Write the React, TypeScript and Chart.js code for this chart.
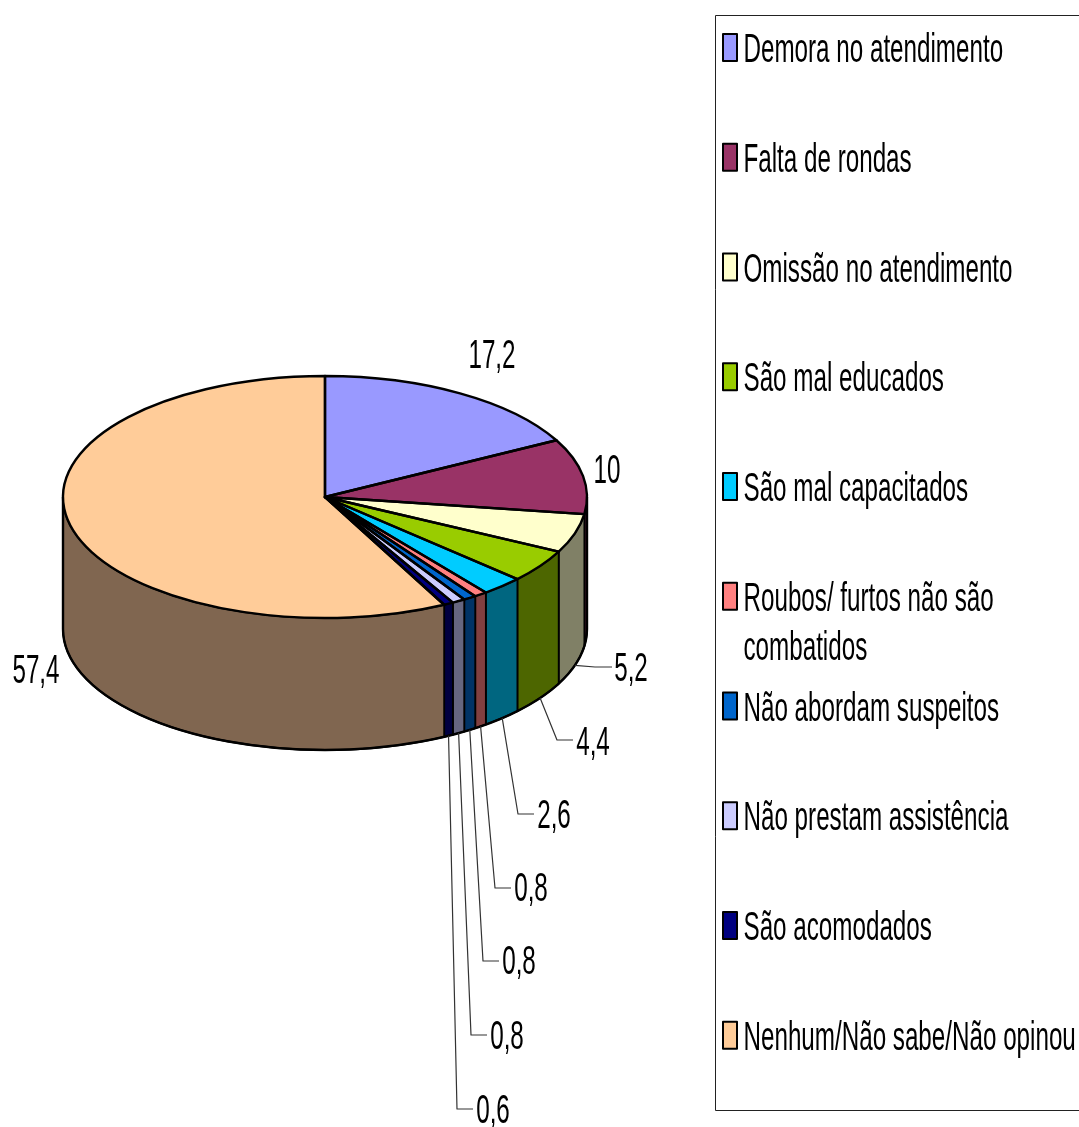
import React, { useEffect, useRef } from "react";
import { Chart, registerables } from "chart.js";

Chart.register(...registerables);

const categories: (string | string[])[] = [
  "Demora no atendimento",
  "Falta de rondas",
  "Omissão no atendimento",
  "São mal educados",
  "São mal capacitados",
  ["Roubos/ furtos não são", "combatidos"],
  "Não abordam suspeitos",
  "Não prestam assistência",
  "São acomodados",
  "Nenhum/Não sabe/Não opinou",
];
const values = [17.2, 10, 5.2, 4.4, 2.6, 0.8, 0.8, 0.8, 0.6, 57.4];
const topColors = ["#9999FF", "#993366", "#FFFFCC", "#99CC00", "#00CCFF", "#FF8080", "#0066CC", "#CCCCFF", "#000080", "#FFCC99"];
const wallColors = ["#4D4D80", "#4D1A33", "#808066", "#4D6600", "#006680", "#804040", "#003366", "#666680", "#000040", "#806650"];

// Label placement: [label centre x, label centre y, elbow x, elbow y, line end x] ; null elbow = no leader
const labelPlaces: (number | null)[][] = [
  [492, 355, null, null, null],
  [607, 470, null, null, null],
  [631, 668, 595, 667, 612],
  [593, 742, 557, 740, 573],
  [554, 815, 518, 814, 534],
  [531, 888, 495, 888, 511],
  [519, 961, 483, 961, 499],
  [507, 1036, 471, 1035, 487],
  [493, 1110, 457, 1109, 473],
  [36, 670, null, null, null],
];

const SQUASH = 121 / 262;
const DEPTH = 132;
const TEXT_X = 0.605;
const FONT = '40px "Liberation Sans", Arial, sans-serif';

function narrowText(ctx: CanvasRenderingContext2D, text: string, x: number, y: number, align: CanvasTextAlign) {
  ctx.save();
  ctx.translate(x, y + 2);
  ctx.scale(TEXT_X, 1);
  ctx.font = FONT;
  ctx.fillStyle = "#000";
  ctx.textAlign = align;
  ctx.textBaseline = "middle";
  ctx.fillText(text, 0, 0);
  ctx.restore();
}

const pie3d = {
  id: "pie3d",
  beforeDatasetsDraw(chart: any) {
    const ctx: CanvasRenderingContext2D = chart.ctx;
    const arcs = chart.getDatasetMeta(0).data;
    const cx = arcs[0].x;
    const cy = arcs[0].y;
    const rx = arcs[0].outerRadius;
    const ry = rx * SQUASH;
    arcs.forEach((arc: any, i: number) => {
      const a1 = Math.max(arc.startAngle, 0);
      const a2 = Math.min(arc.endAngle, Math.PI);
      if (a2 <= a1) return;
      ctx.beginPath();
      ctx.ellipse(cx, cy, rx, ry, 0, a1, a2);
      ctx.ellipse(cx, cy + DEPTH, rx, ry, 0, a2, a1, true);
      ctx.closePath();
      ctx.fillStyle = wallColors[i];
      ctx.fill();
      ctx.lineWidth = 1.8;
      ctx.strokeStyle = "#000";
      ctx.stroke();
    });
    // outer silhouette
    ctx.beginPath();
    ctx.moveTo(cx + rx, cy);
    ctx.lineTo(cx + rx, cy + DEPTH);
    ctx.ellipse(cx, cy + DEPTH, rx, ry, 0, 0, Math.PI);
    ctx.lineTo(cx - rx, cy);
    ctx.lineWidth = 2.4;
    ctx.stroke();

    ctx.save();
    ctx.translate(cx, cy);
    ctx.scale(1, SQUASH);
    ctx.translate(-cx, -cy);
  },
  afterDatasetsDraw(chart: any) {
    const ctx: CanvasRenderingContext2D = chart.ctx;
    ctx.restore();
    const arcs = chart.getDatasetMeta(0).data;
    const cx = arcs[0].x;
    const cy = arcs[0].y;
    const rx = arcs[0].outerRadius;
    const ry = rx * SQUASH;
    ctx.strokeStyle = "#000";
    ctx.lineWidth = 2.4;
    ctx.lineJoin = "round";
    arcs.forEach((arc: any) => {
      ctx.beginPath();
      ctx.moveTo(cx, cy);
      ctx.ellipse(cx, cy, rx, ry, 0, arc.startAngle, arc.endAngle);
      ctx.closePath();
      ctx.stroke();
    });

    // value labels and leader lines
    arcs.forEach((arc: any, i: number) => {
      const [lx, ly, ex, ey, endX] = labelPlaces[i];
      if (ex !== null) {
        const mid = (arc.startAngle + arc.endAngle) / 2;
        const sx = cx + rx * Math.cos(mid);
        const sy = cy + DEPTH + ry * Math.sin(mid);
        ctx.beginPath();
        ctx.moveTo(sx, sy);
        ctx.lineTo(ex as number, ey as number);
        ctx.lineTo(endX as number, ey as number);
        ctx.lineWidth = 1.2;
        ctx.strokeStyle = "#333";
        ctx.stroke();
      }
      narrowText(ctx, String(values[i]).replace(".", ","), lx as number, ly as number, "center");
    });

    // legend
    ctx.strokeStyle = "#222";
    ctx.lineWidth = 1;
    ctx.strokeRect(715.5, 15.5, 400, 1095);
    categories.forEach((cat, i) => {
      const y = 48 + i * 109.75;
      ctx.fillStyle = topColors[i];
      ctx.fillRect(723, y - 14, 14, 27);
      ctx.strokeStyle = "#000";
      ctx.lineWidth = 2;
      ctx.strokeRect(723, y - 14, 14, 27);
      const lines = Array.isArray(cat) ? cat : [cat];
      lines.forEach((line, j) => narrowText(ctx, line, 743.5, y + 1 + j * 49, "left"));
    });
  },
};

export default function App() {
  const ref = useRef<HTMLCanvasElement>(null);
  useEffect(() => {
    const chart = new Chart(ref.current!, {
      type: "pie",
      data: {
        labels: categories as any,
        datasets: [{ data: values, backgroundColor: topColors, borderWidth: 0 }],
      },
      options: {
        animation: false,
        responsive: false,
        devicePixelRatio: 1,
        events: [],
        layout: { padding: { left: 63, right: 492, top: 235, bottom: 368 } },
        plugins: { legend: { display: false }, tooltip: { enabled: false } },
      },
      plugins: [pie3d as any],
    });
    return () => chart.destroy();
  }, []);
  return (
    <canvas
      ref={ref}
      width={1079}
      height={1127}
      style={{ position: "fixed", left: 0, top: 0, display: "block", background: "#fff" }}
    />
  );
}
